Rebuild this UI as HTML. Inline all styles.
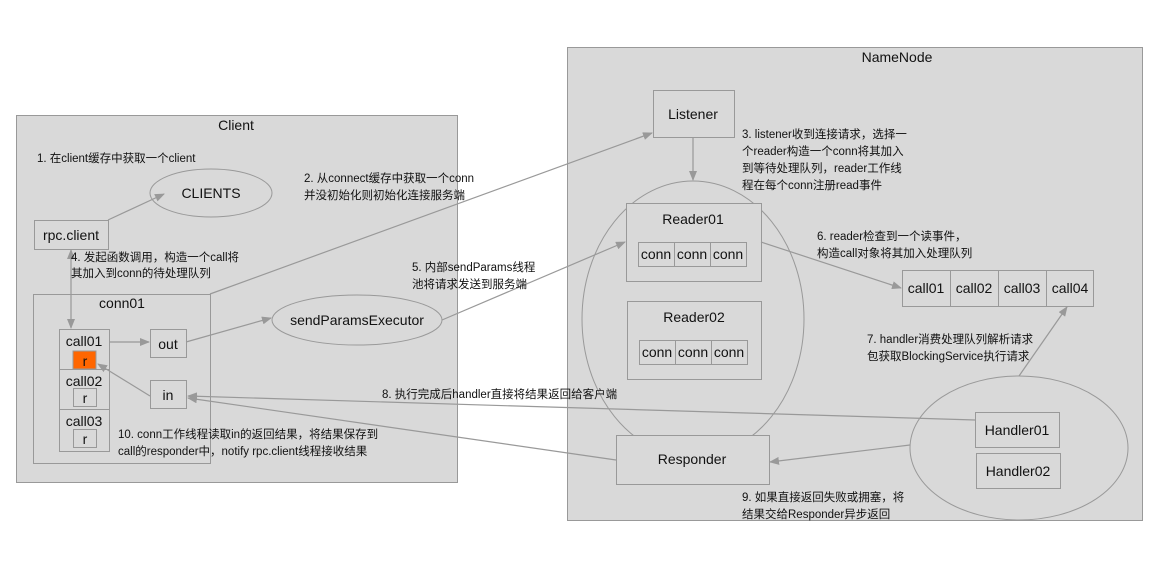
<!DOCTYPE html>
<html><head><meta charset="utf-8"><style>
body{margin:0;background:#fff}
svg text{font-family:"Liberation Sans","Noto Sans CJK SC",sans-serif;fill:#111}
.t{font-size:14px}
.a{font-size:11.5px}
</style></head><body>
<svg width="1160" height="574" xmlns="http://www.w3.org/2000/svg">
<defs><marker id="m" markerWidth="10" markerHeight="8" refX="9" refY="4" orient="auto" markerUnits="userSpaceOnUse"><path d="M0,0 L10,4 L0,8 Z" fill="#999"/></marker>
<marker id="ms" markerWidth="10" markerHeight="8" refX="1" refY="4" orient="auto" markerUnits="userSpaceOnUse"><path d="M10,0 L0,4 L10,8 Z" fill="#999"/></marker></defs>
<g stroke="#999" stroke-width="1" fill="#d9d9d9">
<rect x="16.5" y="115.5" width="441" height="367"/>
<rect x="567.5" y="47.5" width="575" height="473"/>
<rect x="34.5" y="220.5" width="74" height="29"/>
<ellipse cx="211" cy="193" rx="61" ry="24"/>
<rect x="33.5" y="294.5" width="177" height="169"/>
<rect x="59.5" y="329.5" width="50" height="40"/>
<rect x="59.5" y="369.5" width="50" height="40"/>
<rect x="59.5" y="409.5" width="50" height="42"/>
<rect x="73.5" y="388.5" width="23" height="18"/>
<rect x="73.5" y="429.5" width="23" height="18"/>
<rect x="150.5" y="329.5" width="36" height="28"/>
<rect x="150.5" y="380.5" width="36" height="28"/>
<ellipse cx="357" cy="320" rx="85" ry="25"/>
<rect x="653.5" y="90.5" width="81" height="47"/>
<ellipse cx="693" cy="319" rx="111" ry="138"/>
<rect x="626.5" y="203.5" width="135" height="78"/>
<rect x="638.5" y="242.5" width="36" height="24"/><rect x="674.5" y="242.5" width="36" height="24"/><rect x="710.5" y="242.5" width="36" height="24"/>
<rect x="627.5" y="301.5" width="134" height="78"/>
<rect x="639.5" y="340.5" width="36" height="24"/><rect x="675.5" y="340.5" width="36" height="24"/><rect x="711.5" y="340.5" width="36" height="24"/>
<rect x="902.5" y="270.5" width="48" height="36"/><rect x="950.5" y="270.5" width="48" height="36"/><rect x="998.5" y="270.5" width="48" height="36"/><rect x="1046.5" y="270.5" width="47" height="36"/>
<ellipse cx="1019" cy="448" rx="109" ry="72"/>
<rect x="975.5" y="412.5" width="84" height="35"/>
<rect x="976.5" y="453.5" width="84" height="35"/>
<rect x="616.5" y="435.5" width="153" height="49"/>
</g>
<rect x="73" y="351" width="23" height="18" fill="#ff6600" stroke="#999"/>
<g stroke="#999" stroke-width="1.2" fill="none" marker-end="url(#m)">
<line x1="108" y1="220" x2="164" y2="194"/>
<line x1="71" y1="250" x2="71" y2="328" marker-start="url(#ms)"/>
<line x1="210" y1="294" x2="652" y2="133"/>
<line x1="109" y1="342" x2="149" y2="342"/>
<line x1="186" y1="342" x2="271" y2="318"/>
<line x1="442" y1="320" x2="625" y2="242"/>
<line x1="761" y1="242" x2="901" y2="288"/>
<line x1="150" y1="396" x2="98" y2="364"/>
<line x1="693" y1="137" x2="693" y2="180"/>
<line x1="975" y1="420" x2="188" y2="396"/>
<line x1="616" y1="460" x2="188" y2="398"/>
<line x1="910" y1="445" x2="770" y2="462"/>
<line x1="1019" y1="376" x2="1067" y2="307"/>
</g>
<g class="t" text-anchor="middle">
<text x="236" y="130">Client</text>
<text x="897" y="62">NameNode</text>
<text x="71" y="240">rpc.client</text>
<text x="211" y="198">CLIENTS</text>
<text x="122" y="308">conn01</text>
<text x="84" y="346">call01</text>
<text x="84" y="386">call02</text>
<text x="84" y="426">call03</text>
<text x="85" y="366">r</text><text x="85" y="403">r</text><text x="85" y="444">r</text>
<text x="168" y="349">out</text>
<text x="168" y="400">in</text>
<text x="357" y="325">sendParamsExecutor</text>
<text x="693" y="119">Listener</text>
<text x="693" y="224">Reader01</text>
<text x="694" y="322">Reader02</text>
<text x="656" y="259">conn</text><text x="692" y="259">conn</text><text x="728" y="259">conn</text>
<text x="657" y="357">conn</text><text x="693" y="357">conn</text><text x="729" y="357">conn</text>
<text x="926" y="293">call01</text><text x="974" y="293">call02</text><text x="1022" y="293">call03</text><text x="1070" y="293">call04</text>
<text x="1017" y="435">Handler01</text>
<text x="1018" y="476">Handler02</text>
<text x="692" y="464">Responder</text>
</g>
<g class="a">
<text x="37" y="162">1. 在client缓存中获取一个client</text>
<text x="304" y="182">2. 从connect缓存中获取一个conn</text>
<text x="304" y="199">并没初始化则初始化连接服务端</text>
<text x="742" y="138">3. listener收到连接请求，选择一</text>
<text x="742" y="155">个reader构造一个conn将其加入</text>
<text x="742" y="172">到等待处理队列，reader工作线</text>
<text x="742" y="189">程在每个conn注册read事件</text>
<text x="71" y="261">4. 发起函数调用，构造一个call将</text>
<text x="71" y="277">其加入到conn的待处理队列</text>
<text x="412" y="271">5. 内部sendParams线程</text>
<text x="412" y="288">池将请求发送到服务端</text>
<text x="817" y="240">6. reader检查到一个读事件，</text>
<text x="817" y="257">构造call对象将其加入处理队列</text>
<text x="867" y="343">7. handler消费处理队列解析请求</text>
<text x="867" y="360">包获取BlockingService执行请求</text>
<text x="382" y="398">8. 执行完成后handler直接将结果返回给客户端</text>
<text x="742" y="501">9. 如果直接返回失败或拥塞，将</text>
<text x="742" y="518">结果交给Responder异步返回</text>
<text x="118" y="438">10. conn工作线程读取in的返回结果，将结果保存到</text>
<text x="118" y="455">call的responder中，notify rpc.client线程接收结果</text>
</g>
</svg>
</body></html>
